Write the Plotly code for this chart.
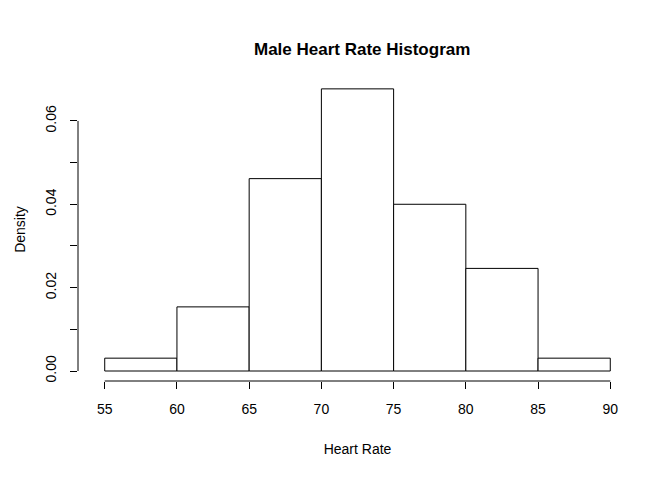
import plotly.graph_objects as go

# Male heart rate histogram (density scale), bins of width 5
bin_left = [55, 60, 65, 70, 75, 80, 85]
counts = [1, 5, 15, 22, 13, 8, 1]
bin_width = 5
total = sum(counts)
density = [c / (total * bin_width) for c in counts]
mids = [b + bin_width / 2 for b in bin_left]

x_ticks = [55, 60, 65, 70, 75, 80, 85, 90]
y_ticks = [0, 0.01, 0.02, 0.03, 0.04, 0.05, 0.06]
y_labels = ["0.00", "", "0.02", "", "0.04", "", "0.06"]

font = "Liberation Sans, Arial, sans-serif"

fig = go.Figure(go.Bar(
    x=mids, y=density, width=bin_width,
    marker=dict(color="white", line=dict(color="black", width=1)),
))

# R-style axis lines spanning only the tick range
fig.add_shape(type="line", xref="x", yref="paper", x0=55, x1=90, y0=0, y1=0,
              line=dict(color="black", width=1))
fig.add_shape(type="line", xref="paper", yref="y", x0=0, x1=0, y0=0, y1=0.06,
              line=dict(color="black", width=1))

fig.update_layout(
    width=672, height=480,
    margin=dict(l=63, r=43, t=70, b=107),
    paper_bgcolor="white", plot_bgcolor="white",
    showlegend=False,
    font=dict(family=font, size=13, color="black"),
    title=dict(text="<b>Male Heart Rate Histogram</b>", x=0.527, xanchor="center",
               y=1 - 41 / 480, yanchor="middle", font=dict(size=17)),
    xaxis=dict(range=[53.15, 91.85], tickvals=x_ticks, ticks="outside", ticklen=7,
               tickcolor="black", showgrid=False, zeroline=False, showline=False,
               ticklabelstandoff=8, tickfont=dict(size=14),
               title=dict(text="Heart Rate", standoff=28, font=dict(size=14))),
    yaxis=dict(range=[-0.0024, 0.0703], tickvals=y_ticks, ticktext=y_labels,
               ticks="outside", ticklen=7, tickcolor="black", tickangle=-90,
               showgrid=False, zeroline=False, showline=False,
               ticklabelstandoff=8, tickfont=dict(size=14),
               title=dict(text="Density", standoff=14, font=dict(size=14))),
)

fig.write_html("out.html")
